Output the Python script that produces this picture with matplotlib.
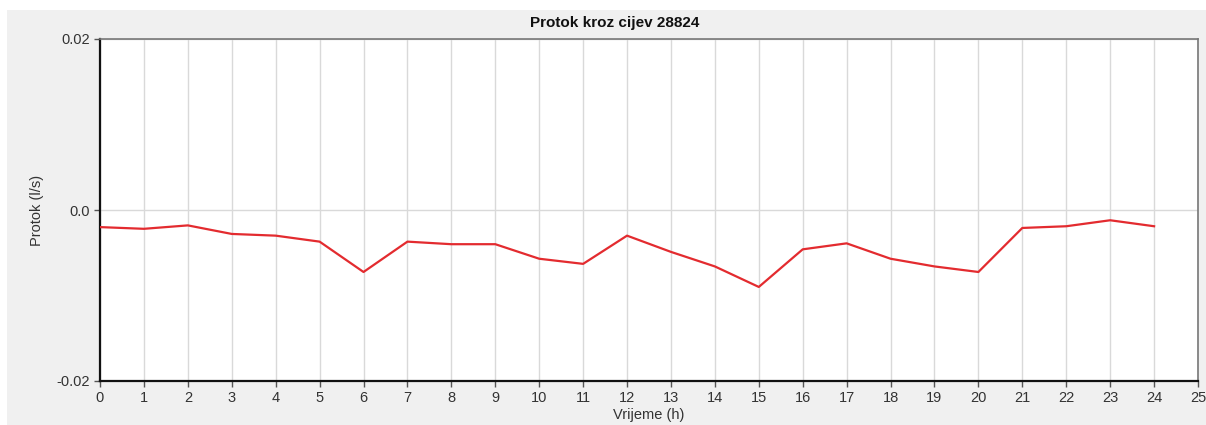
import matplotlib
matplotlib.use("Agg")
import matplotlib.pyplot as plt
from matplotlib.patches import Rectangle

hours = list(range(25))
flow = [-0.0020, -0.0022, -0.0018, -0.0028, -0.0030, -0.0037, -0.00725,
        -0.0037, -0.0040, -0.0040, -0.0057, -0.0063, -0.0030, -0.0049,
        -0.0066, -0.0090, -0.0046, -0.0039, -0.0057, -0.0066, -0.00725,
        -0.0021, -0.0019, -0.0012, -0.0019]
xticks = list(range(26))
yticks = [-0.02, 0.0, 0.02]
ytick_labels = ["-0.02", "0.0", "0.02"]

plt.rcParams['font.family'] = ['Liberation Sans', 'DejaVu Sans']

W, H = 1206, 425
fig = plt.figure(figsize=(W / 100, H / 100), dpi=100, facecolor='white')
fig.patches.append(Rectangle((7 / W, 0), 1, 1 - 10 / H, transform=fig.transFigure,
                             facecolor='#f0f0f0', edgecolor='none', zorder=-10))

ax = fig.add_axes([100 / W, 1 - 381 / H, (1198 - 100) / W, (381 - 39) / H])
ax.set_facecolor('white')
ax.plot(hours, flow, color='#e32b2f', linewidth=1.6, zorder=3)

ax.set_xlim(0, 25)
ax.set_ylim(-0.02, 0.02)
ax.set_xticks(xticks)
ax.set_yticks(yticks)
ax.set_yticklabels(ytick_labels)
ax.grid(True, color='#d9d9d9', linewidth=1.0, zorder=0)
ax.tick_params(axis='both', labelsize=10.5, color='#555555', length=4, width=1,
               labelcolor='#333333')
ax.tick_params(axis='y', pad=3)
ax.tick_params(axis='x', pad=3)

for side in ['left', 'bottom']:
    ax.spines[side].set_color('#111111')
    ax.spines[side].set_linewidth(1.6)
for side in ['top', 'right']:
    ax.spines[side].set_color('#777777')
    ax.spines[side].set_linewidth(1.2)

fig.text(615 / W, 1 - 23 / H, 'Protok kroz cijev 28824', fontsize=11, fontweight='bold',
         color='#111111', ha='center', va='center')
ax.set_xlabel('Vrijeme (h)', fontsize=10.5, color='#333333', labelpad=2)
ax.set_ylabel('Protok (l/s)', fontsize=10.5, color='#333333', labelpad=9)

fig.savefig('out.png', dpi=100, facecolor=fig.get_facecolor())
